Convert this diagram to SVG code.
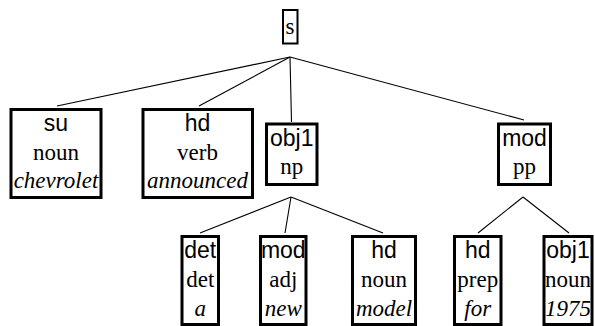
<svg xmlns="http://www.w3.org/2000/svg" width="595" height="326" viewBox="0 0 595 326">
  <style>
    .box { fill: #fff; stroke: #000; stroke-width: 3; }
    .root { fill: #fff; stroke: #000; stroke-width: 2; }
    .edge { stroke: #000; stroke-width: 1.1; fill: none; }
    .rel { font-family: "Liberation Sans", Arial, sans-serif; font-size: 23px; text-anchor: middle; fill: #000; }
    .cat { font-family: "Liberation Serif", "Times New Roman", "DejaVu Serif", serif; font-size: 23px; text-anchor: middle; fill: #000; }
    .word { font-family: "Liberation Serif", "Times New Roman", "DejaVu Serif", serif; font-size: 23px; font-style: italic; text-anchor: middle; fill: #000; }
  </style>
  <rect width="595" height="326" fill="#fff"/>

  <!-- tree edges -->
  <g id="edges">
    <line class="edge" x1="290" y1="57" x2="57" y2="106"/>
    <line class="edge" x1="290" y1="57" x2="199" y2="106"/>
    <line class="edge" x1="290" y1="57" x2="291.5" y2="122"/>
    <line class="edge" x1="290" y1="57" x2="524" y2="120"/>
    <line class="edge" x1="291" y1="197" x2="200" y2="233"/>
    <line class="edge" x1="291" y1="197" x2="285" y2="233"/>
    <line class="edge" x1="291" y1="197" x2="383" y2="233"/>
    <line class="edge" x1="523" y1="197" x2="478" y2="233"/>
    <line class="edge" x1="523" y1="197" x2="569" y2="233"/>
  </g>

  <!-- root -->
  <g id="node-s">
    <rect class="root" x="283" y="10" width="14.5" height="33.5"/>
    <text class="cat" x="290" y="33.5" font-size="22" font-family="Liberation Serif, serif">s</text>
  </g>

  <!-- first level -->
  <g id="node-su">
    <rect class="box" x="11" y="109.5" width="90" height="88"/>
    <text class="rel" x="56" y="131">su</text>
    <text class="cat" x="56" y="160">noun</text>
    <text class="word" x="56" y="188">chevrolet</text>
  </g>
  <g id="node-hd">
    <rect class="box" x="143" y="109.5" width="109.5" height="88"/>
    <text class="rel" x="197.5" y="131">hd</text>
    <text class="cat" x="197.5" y="160">verb</text>
    <text class="word" x="197.5" y="188">announced</text>
  </g>
  <g id="node-obj1">
    <rect class="box" x="266.5" y="124" width="50.5" height="60.5"/>
    <text class="rel" x="291.75" y="145.5">obj1</text>
    <text class="cat" x="291.75" y="173.5">np</text>
  </g>
  <g id="node-mod">
    <rect class="box" x="498.5" y="124" width="52" height="60.5"/>
    <text class="rel" x="524.5" y="145.5">mod</text>
    <text class="cat" x="524.5" y="173.5">pp</text>
  </g>

  <!-- second level: under obj1 -->
  <g id="node-det">
    <rect class="box" x="182" y="236.5" width="36.5" height="88"/>
    <text class="rel" x="200.25" y="258">det</text>
    <text class="cat" x="200.25" y="287">det</text>
    <text class="word" x="200.25" y="315.5">a</text>
  </g>
  <g id="node-mod-adj">
    <rect class="box" x="260.5" y="236.5" width="45.5" height="88"/>
    <text class="rel" x="283.25" y="258">mod</text>
    <text class="cat" x="283.25" y="287">adj</text>
    <text class="word" x="283.25" y="315.5">new</text>
  </g>
  <g id="node-hd-noun">
    <rect class="box" x="352.5" y="236.5" width="63" height="88"/>
    <text class="rel" x="384" y="258">hd</text>
    <text class="cat" x="384" y="287">noun</text>
    <text class="word" x="384" y="315.5">model</text>
  </g>

  <!-- second level: under mod -->
  <g id="node-hd-prep">
    <rect class="box" x="454.5" y="236.5" width="46.5" height="88"/>
    <text class="rel" x="477.75" y="258">hd</text>
    <text class="cat" x="477.75" y="287">prep</text>
    <text class="word" x="477.75" y="315.5">for</text>
  </g>
  <g id="node-obj1-noun">
    <rect class="box" x="544" y="236.5" width="48" height="88"/>
    <text class="rel" x="568" y="258">obj1</text>
    <text class="cat" x="568" y="287">noun</text>
    <text class="word" x="568" y="315.5">1975</text>
  </g>
</svg>
